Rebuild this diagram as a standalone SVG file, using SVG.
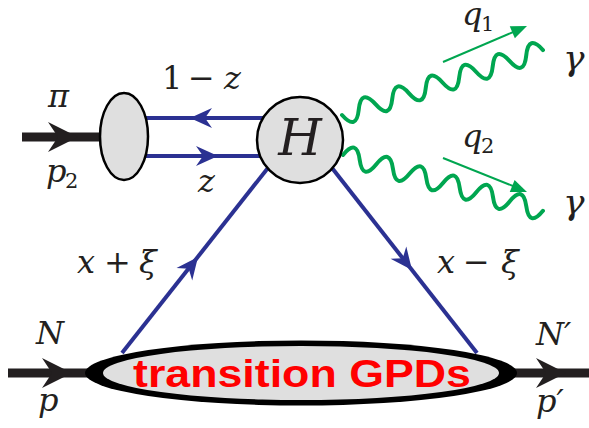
<svg xmlns="http://www.w3.org/2000/svg" xmlns:xlink="http://www.w3.org/1999/xlink" width="589" height="428" viewBox="0 0 589 428">
<style>
text{font-family:"DejaVu Serif",serif;fill:#231f20}
.m{font-style:italic;font-size:32px}
.r{font-style:normal;font-size:32px}
.sub{font-style:normal;font-size:21px}
.blue{stroke:#2b3192;stroke-width:4;fill:none}
.thick{stroke:#231f20;stroke-width:9;fill:none}
.photon{stroke:#00a650;stroke-width:4;fill:none;stroke-linecap:round}
.mom{stroke:#00a650;stroke-width:2;fill:none}
.node{fill:#dfdfdf;stroke:#000;stroke-width:2.5}
</style>
<defs>
<path id="bah" d="M0,0 L-22,-10 L-15,0 L-22,10 Z" fill="#2b3192"/>
<path id="kah" d="M0,0 L-30,-15 L-20,0 L-30,15 Z" fill="#231f20"/>
<path id="gah" d="M0,0 L-16,-6.5 L-16,6.5 Z" fill="#00a650"/>
</defs>
<g id="connectors">
<line class="thick" x1="22" y1="137" x2="102" y2="137"/>
<use xlink:href="#kah" transform="translate(78,137)"/>
<line class="thick" x1="8" y1="373" x2="92" y2="373"/>
<use xlink:href="#kah" transform="translate(72,373)"/>
<line class="thick" x1="510" y1="373" x2="589" y2="373"/>
<use xlink:href="#kah" transform="translate(566,373)"/>
<line class="blue" x1="146" y1="118" x2="270" y2="118"/>
<use xlink:href="#bah" transform="translate(190,118) rotate(180)"/>
<line class="blue" x1="146" y1="156" x2="270" y2="156"/>
<use xlink:href="#bah" transform="translate(218,156)"/>
<line class="blue" x1="122" y1="353" x2="275" y2="159"/>
<use xlink:href="#bah" transform="translate(198,257) rotate(-51.7)"/>
<line class="blue" x1="325" y1="159" x2="477" y2="353"/>
<use xlink:href="#bah" transform="translate(412,270) rotate(51.9)"/>
<path class="photon" transform="translate(342,115) rotate(-17.9)" d="M0,0 Q8.8,20 17.6,0 T35.2,0 T52.8,0 T70.4,0 T88,0 T105.6,0 T123.2,0 T140.8,0 T158.4,0 T176,0 T193.6,0 T211.2,0"/>
<path class="photon" transform="translate(343,155) rotate(15.6)" d="M0,0 Q8.65,-20 17.3,0 T34.6,0 T51.9,0 T69.2,0 T86.5,0 T103.8,0 T121.1,0 T138.4,0 T155.7,0 T173,0 T190.3,0 T207.6,0"/>
<line class="mom" x1="443" y1="62" x2="518" y2="30"/>
<use xlink:href="#gah" transform="translate(527,26) rotate(-23.2)"/>
<line class="mom" x1="443" y1="158" x2="518" y2="188"/>
<use xlink:href="#gah" transform="translate(527,192) rotate(22)"/>
</g>
<g id="pion-blob">
<ellipse class="node" cx="124" cy="136.5" rx="24" ry="43.5"/>
</g>
<g id="hard-kernel">
<circle class="node" cx="300" cy="140" r="43" stroke-width="3"/>
<text class="m" x="300" y="155" text-anchor="middle" style="font-size:50px">H</text>
</g>
<g id="gpd-blob">
<ellipse cx="301" cy="373" rx="216" ry="32.5" fill="#000"/>
<ellipse cx="301" cy="373" rx="198" ry="27" fill="#dfdfdf"/>
<text x="133" y="387" style="font-family:'Liberation Sans',Arial,sans-serif;font-weight:bold;font-size:38px;fill:#ff0000" textLength="338" lengthAdjust="spacingAndGlyphs">transition GPDs</text>
</g>
<g id="labels">
<text class="m" x="48" y="107">π</text>
<text class="m" x="46" y="182">p</text><text class="sub" x="65" y="188">2</text>
<text class="r" x="162" y="89">1</text><text class="r" x="188" y="89">−</text><text class="m" x="224" y="89">z</text>
<text class="m" x="198" y="192">z</text>
<text class="m" x="77" y="273">x</text><text class="r" x="104" y="273">+</text><text class="m" x="139" y="273">ξ</text>
<text class="m" x="437" y="273">x</text><text class="r" x="463" y="273">−</text><text class="m" x="501" y="273">ξ</text>
<text class="m" x="36" y="344">N</text>
<text class="m" x="38" y="411">p</text>
<text class="m" x="536" y="345">N′</text>
<text class="m" x="536" y="412">p′</text>
<text class="m" x="462" y="25">q</text><text class="sub" x="481" y="31">1</text>
<text class="m" x="462" y="147">q</text><text class="sub" x="481" y="153">2</text>
<text class="m" x="563" y="70" style="font-size:36px">γ</text>
<text class="m" x="563" y="214" style="font-size:36px">γ</text>
</g>
</svg>
